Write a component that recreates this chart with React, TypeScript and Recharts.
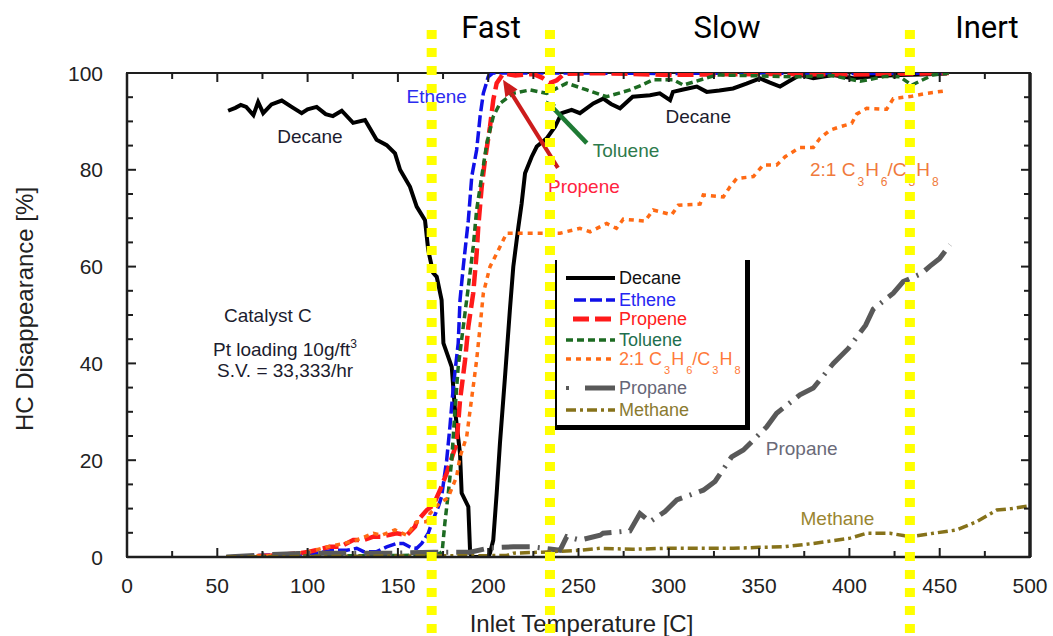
import React from 'react';
import { LineChart, Line, XAxis, YAxis, ReferenceLine, ReferenceDot, ReferenceArea, Legend } from 'recharts';

type Pair = [number, number];

// ---------- data ----------
const decane: Pair[] = [
  [56, 92.2], [60, 92.8], [63, 93.4], [66, 93], [70, 91.3], [72.6, 94], [75.4, 91.7], [80, 93.5], [85.7, 94.3],
  [92, 92.8], [96.7, 91.7], [100, 92.5], [105, 93], [110, 91.5], [114, 91.1], [118.9, 92.2], [125.2, 89.7],
  [131.8, 90.3], [138.2, 86.2], [143.8, 85.1], [148.4, 83.4], [151.2, 80], [156.7, 76.5], [160.4, 72.4],
  [165, 69.6], [166.8, 63.4], [169.5, 58.7], [171.5, 57.9], [174.2, 53.1], [175.2, 44.2], [179.8, 39.3],
  [181.6, 30.4], [184.4, 21.4], [185.3, 13.2], [189, 10.4], [190, 0.8], [191, 0], [200, 0], [201, 0.8],
  [202.8, 3.5], [204.7, 13.2], [206.5, 23.5], [209.3, 37.2], [212, 51], [213.9, 60], [216.7, 68.2],
  [218.5, 73], [220.4, 79.3], [224.1, 82.7], [226.9, 84.8], [232.4, 86.5], [237, 88.9], [240.7, 91.7],
  [246.2, 92.4], [250.8, 91.7], [258.2, 93.7], [263.7, 94.7], [268, 93.6], [273, 92.7], [280, 95.1],
  [289.6, 95.4], [295, 95.8], [300.7, 94.4], [302.3, 96.1], [308, 96.6], [315.5, 97.2], [321, 96.1],
  [328, 96.4], [335.6, 96.8], [343, 97.8], [350.5, 98.9], [356, 98], [361.6, 97.2], [367, 98.4],
  [372.6, 99.6], [380, 98.9], [391, 99.6], [402, 98.9], [415, 99.4], [428, 99.6], [440, 99.7], [454, 99.9],
];

const ethene: Pair[] = [
  [55, 0], [70, 0.3], [90, 0.5], [105, 0.8], [114.2, 1.4], [121.7, 1.4], [127.2, 1.8], [131, 1.1],
  [138.3, 1.1], [143.8, 2.1], [149.3, 2.8], [153, 2.8], [157, 2], [160.4, 1.8], [163.2, 2.8], [166.8, 4.9],
  [168.7, 7], [172.4, 10.4], [174.2, 12.5], [177, 20], [178.8, 26.9], [180.7, 35.2], [183.4, 44.2],
  [184.4, 53.1], [186.2, 60], [189, 69.6], [190.9, 78.6], [193.6, 84.1], [195.5, 91], [197.3, 95.8],
  [200, 99.2], [202.7, 100], [250, 100], [300, 99.9], [350, 100], [400, 99.9], [455, 100],
];

const propene: Pair[] = [
  [60, 0], [80, 0.3], [96, 0.8], [101, 1.1], [112.4, 2.1], [118, 2.1], [125.3, 3.5], [131, 3.5],
  [136.4, 4.2], [141, 4.2], [149.3, 4.9], [154.9, 4.5], [159.5, 6.3], [160.4, 7.3], [166, 9.7],
  [169.6, 10.7], [173.3, 13.8], [177, 17.3], [182.5, 23.5], [184.4, 32.4], [187.2, 40.7], [189, 47.6],
  [191.7, 54.5], [193.6, 62.7], [194.5, 68.2], [196.4, 76.5], [198.2, 82], [201, 88.9], [202.8, 94.4],
  [204.7, 97.9], [208.4, 99.9], [215, 99.5], [225, 99.8], [230, 99], [234, 97.9], [238, 98.5],
  [242, 99.8], [260, 100], [300, 99.6], [350, 99.8], [400, 99.7], [455, 100],
];

const toluene: Pair[] = [
  [55, 0], [100, 0.2], [150, 0.3], [170, 0.5], [173.3, 0.8], [174.5, 1.1], [176, 7], [177.9, 13.2],
  [179.8, 20], [181.6, 30.4], [183.4, 39.3], [186.2, 47.6], [189, 55.8], [191.7, 64.1], [193.6, 71.7],
  [196.4, 78.6], [199.2, 85.4], [202.8, 91], [206.5, 93.7], [213.9, 95.8], [223.1, 96.5], [232.4, 95.8],
  [243.5, 97.9], [254.6, 96.5], [265.6, 95.1], [278.5, 96.5], [285, 97.5], [291.4, 98.6], [302.5, 98.6],
  [308, 97.5], [326.5, 99.6], [350, 99.4], [372.6, 99.2], [390, 99.5], [405.9, 98.3], [420, 99.3],
  [428, 99.2], [434.5, 97.5], [446.3, 99.6], [455, 100],
];

const mix: Pair[] = [
  [55, 0], [80, 0.3], [100, 1], [112, 2.2], [120, 2.8], [127.2, 3.5], [136.4, 4.9], [141, 4.5],
  [148.4, 5.6], [154.9, 4.5], [160.4, 7.3], [166, 7.3], [167.8, 9], [173.3, 11.2], [177.7, 12.2],
  [182.5, 16.6], [184.4, 20.7], [188.1, 24.9], [190, 30.4], [191.7, 35.2], [193.6, 40.7], [195.5, 47.6],
  [197.3, 54.5], [201, 60], [204.7, 62.7], [210.2, 66.9], [223.1, 66.9], [239.8, 66.9], [250.8, 67.9],
  [256.4, 67.2], [265.6, 68.9], [271, 67.9], [274.8, 69.8], [286.8, 69.4], [291.4, 71.7], [301.6, 70.7],
  [305.3, 72.7], [317.3, 72.9], [319.1, 74.8], [330.2, 74.4], [333.9, 76.5], [337.6, 78.2], [346.8, 78.6],
  [352.3, 81], [359.7, 81], [364.4, 82.7], [372.6, 84.6], [380, 84.6], [383.7, 86.5], [389.3, 88.2],
  [394.8, 88.9], [401.3, 89.6], [404, 91.5], [409.6, 92.7], [420.6, 92.5], [424.3, 94.7], [434.5, 95.2],
  [442.8, 95.8], [452.9, 96.3],
];

const propane: Pair[] = [
  [55, 0], [80, 0.5], [100, 0.8], [130, 0.8], [150, 0.8], [170, 1], [190, 1], [201, 1.9], [214, 2.1],
  [224.8, 2.1], [239.8, 1.4], [243.5, 4.2], [250.8, 3.5], [262, 4.5], [263.6, 4.9], [278.5, 5.4],
  [284, 9], [289.6, 7.3], [297.9, 9.4], [304.4, 11.8], [319.1, 13.8], [325.6, 15.6], [334.8, 20.7],
  [341.3, 22.1], [354.2, 26.9], [359.7, 29.7], [372.6, 33.5], [380, 34.9], [391.1, 40], [399.4, 43.1],
  [409, 47.9], [413.2, 51.2], [424.3, 54.5], [429.8, 56.9], [440, 58.6], [444.6, 60.1], [450, 61.7],
  [455.7, 64.5],
];

const methane: Pair[] = [
  [55, 0], [150, 0.2], [210, 0.3], [214, 0.8], [230, 1], [251, 1.4], [262, 1.8], [280, 1.6], [298.8, 1.8],
  [320, 1.8], [335.7, 1.8], [350, 2], [363.4, 2.1], [380, 2.8], [400.4, 3.9], [409.6, 4.9], [422.5, 4.9],
  [433.6, 4.2], [446.5, 4.9], [459.4, 5.6], [470.5, 7.3], [481.6, 9.7], [490, 10], [496.3, 10.4], [500, 10.6],
];

const xTicks = [0, 25, 50, 75, 100, 125, 150, 175, 200, 225, 250, 275, 300, 325, 350, 375, 400, 425, 450, 475, 500];
const yTicks = [0, 5, 10, 15, 20, 25, 30, 35, 40, 45, 50, 55, 60, 65, 70, 75, 80, 85, 90, 95, 100];
const regionBounds = [168.7, 234.2, 433.5];
const regionLabels = ['Fast', 'Slow', 'Inert'];

// ---------- layout & styles ----------
const W = 1053;
const H = 636;
const M = { top: 73, right: 23, bottom: 0, left: 0 };
const Y_AXIS_W = 127;
const X_AXIS_H = 79;
const PLOT_W = W - M.right - Y_AXIS_W; // 903
const PLOT_H = H - M.top - X_AXIS_H; // 484

const FONT = '"Liberation Sans", Arial, Helvetica, sans-serif';
const AXIS = '#1e1e1e';

const STY: Record<string, { stroke: string; w: number; dash?: string }> = {
  decane: { stroke: '#000000', w: 4 },
  ethene: { stroke: '#1010e8', w: 3.5, dash: '12 4' },
  propene: { stroke: '#ff1a1a', w: 4.5, dash: '16 6' },
  toluene: { stroke: '#1d6b22', w: 3.5, dash: '7 4' },
  mix: { stroke: '#ff6a14', w: 3.5, dash: '5 5' },
  propane: { stroke: '#595959', w: 5, dash: '28 8 2 8' },
  methane: { stroke: '#86721a', w: 3.5, dash: '10 4 3 4' },
};

const toPts = (a: Pair[]) => a.map(([x, y]) => ({ x, y }));

// ---------- ticks (inward, mirrored on top / right) ----------
const BottomTick = (props: any) => {
  const { x, y, payload } = props;
  const v = payload.value;
  const major = v % 50 === 0;
  const len = major ? 9 : 6;
  const top = y - PLOT_H;
  return (
    <g>
      <line x1={x} x2={x} y1={y} y2={y - len} stroke={AXIS} strokeWidth={2} />
      <line x1={x} x2={x} y1={top} y2={top + len} stroke={AXIS} strokeWidth={2} />
      {major && (
        <text x={x} y={y + 36} textAnchor="middle" fontSize={21} fill="#222" fontFamily={FONT}>
          {v}
        </text>
      )}
    </g>
  );
};
const LeftTick = (props: any) => {
  const { x, y, payload } = props;
  const v = payload.value;
  const major = v % 20 === 0;
  const len = major ? 9 : 6;
  const right = x + PLOT_W;
  return (
    <g>
      <line x1={x} x2={x + len} y1={y} y2={y} stroke={AXIS} strokeWidth={2} />
      <line x1={right} x2={right - len} y1={y} y2={y} stroke={AXIS} strokeWidth={2} />
      {major && (
        <text x={x - 24} y={y + 7.5} textAnchor="end" fontSize={21} fill="#222" fontFamily={FONT}>
          {v}
        </text>
      )}
    </g>
  );
};

const XTitle = (props: any) => {
  const vb = props.viewBox || { x: 127, y: 557, width: 903 };
  return (
    <text x={vb.x + vb.width / 2 + 3} y={vb.y + 75} textAnchor="middle" fontSize={24} fill="#222" fontFamily={FONT}>
      Inlet Temperature [C]
    </text>
  );
};
const YTitle = (props: any) => {
  const vb = props.viewBox || { x: 0, y: 73, width: 127, height: 484 };
  const cx = vb.x + 33;
  const cy = vb.y + vb.height / 2 - 6;
  return (
    <text x={cx} y={cy} textAnchor="middle" fontSize={24} fill="#222" fontFamily={FONT} transform={`rotate(-90 ${cx} ${cy})`}>
      HC Disappearance [%]
    </text>
  );
};

// ---------- shapes ----------
const YellowShape = (p: any) => (
  <line x1={p.x1} x2={p.x2} y1={30} y2={H} stroke="#ffff00" strokeWidth={10} strokeDasharray="9 9" />
);

const makeArrow = (color: string, w: number, head: number) => (p: any) => {
  const { x1, y1, x2, y2 } = p;
  const dx = x2 - x1;
  const dy = y2 - y1;
  const L = Math.hypot(dx, dy) || 1;
  const ux = dx / L;
  const uy = dy / L;
  const bx = x2 - ux * head;
  const by = y2 - uy * head;
  const nx = -uy;
  const ny = ux;
  const hw = head * 0.45;
  return (
    <g>
      <line x1={x1} y1={y1} x2={bx} y2={by} stroke={color} strokeWidth={w} />
      <polygon points={`${x2},${y2} ${bx + nx * hw},${by + ny * hw} ${bx - nx * hw},${by - ny * hw}`} fill={color} />
    </g>
  );
};

const textShape = (text: string, color: string, anchor: string = 'middle', size = 19) => (p: any) => (
  <text x={p.cx} y={p.cy} textAnchor={anchor} fontSize={size} fill={color} fontFamily={FONT}>
    {text}
  </text>
);

const MixText = ({ x, y, size, color }: { x: number; y: number; size: number; color: string }) => {
  const sub = Math.round(size * 0.62);
  const d = Math.round(size * 0.5);
  return (
    <text x={x} y={y} fontSize={size} fill={color} fontFamily={FONT}>
      <tspan>2:1 C</tspan>
      <tspan dx={2} dy={d} fontSize={sub}>3</tspan>
      <tspan dx={1} dy={-d}>H</tspan>
      <tspan dx={2} dy={d} fontSize={sub}>6</tspan>
      <tspan dy={-d}>/C</tspan>
      <tspan dx={2} dy={d} fontSize={sub}>3</tspan>
      <tspan dx={1} dy={-d}>H</tspan>
      <tspan dx={2} dy={d} fontSize={sub}>8</tspan>
    </text>
  );
};

const notes = [
  { x: 101.3, y: 85.5, text: 'Decane', color: '#1c1c2e' },
  { x: 171.5, y: 93.8, text: 'Ethene', color: '#2b2bef' },
  { x: 316.3, y: 89.7, text: 'Decane', color: '#1c1c2e' },
  { x: 276.3, y: 82.7, text: 'Toluene', color: '#2e7a4c' },
  { x: 253, y: 75.2, text: 'Propene', color: '#ff2340' },
  { x: 373.6, y: 21.1, text: 'Propane', color: '#6a6a78' },
  { x: 393.4, y: 6.6, text: 'Methane', color: '#9a8530' },
  { x: 78, y: 48.6, text: 'Catalyst C', color: '#1c1c2e' },
  { x: 87.5, y: 37.2, text: 'S.V. = 33,333/hr', color: '#1c1c2e' },
];

const PtShape = (p: any) => (
  <text x={p.cx} y={p.cy} textAnchor="middle" fontSize={19} fill="#1c1c2e" fontFamily={FONT}>
    Pt loading 10g/ft
    <tspan dy={-8} fontSize={12}>3</tspan>
  </text>
);
const MixShape = (p: any) => <MixText x={p.cx} y={p.cy} size={19} color="#f07a3c" />;

// ---------- legend ----------
const legendRows = [
  { key: 'decane', label: 'Decane', color: '#111' },
  { key: 'ethene', label: 'Ethene', color: '#2626f2' },
  { key: 'propene', label: 'Propene', color: '#ff2020' },
  { key: 'toluene', label: 'Toluene', color: '#1f6f4f' },
  { key: 'mix', label: '2:1 C3H6/C3H8', color: '#ff7a3a' },
  { key: 'propane', label: 'Propane', color: '#666677' },
  { key: 'methane', label: 'Methane', color: '#8a7a30' },
];
const legendRowY = [18, 40, 59, 80, 99, 128, 150];

const renderLegend = () => (
  <svg width={188} height={165} style={{ display: 'block' }}>
    {legendRows.map((r, i) => {
      const s = STY[r.key];
      const y = legendRowY[i];
      let sample: React.ReactNode;
      if (r.key === 'propane') {
        sample = (
          <g>
            <line x1={9} x2={12} y1={y} y2={y} stroke={s.stroke} strokeWidth={4} />
            <line x1={28} x2={58} y1={y} y2={y} stroke={s.stroke} strokeWidth={5} />
          </g>
        );
      } else {
        const x1 = r.key === 'ethene' ? 17 : r.key === 'propene' ? 16 : 9;
        sample = <line x1={x1} x2={58} y1={y} y2={y} stroke={s.stroke} strokeWidth={r.key === 'propene' ? 5 : s.w} strokeDasharray={s.dash} />;
      }
      return (
        <g key={r.key}>
          {sample}
          {r.key === 'mix' ? (
            <MixText x={62} y={y + 6} size={18} color={r.color} />
          ) : (
            <text x={62} y={y + 6} fontSize={18} fill={r.color} fontFamily={FONT}>
              {r.label}
            </text>
          )}
        </g>
      );
    })}
  </svg>
);

const series: { key: string; data: Pair[] }[] = [
  { key: 'decane', data: decane },
  { key: 'ethene', data: ethene },
  { key: 'propene', data: propene },
  { key: 'toluene', data: toluene },
  { key: 'mix', data: mix },
  { key: 'propane', data: propane },
  { key: 'methane', data: methane },
];

export default function App() {
  return (
    <div style={{ position: 'absolute', left: 0, top: 0, width: W, height: H, background: '#fff', overflow: 'hidden' }}>
      <LineChart width={W} height={H} margin={M}>
        <XAxis
          dataKey="x" type="number" domain={[0, 500]} ticks={xTicks} interval={0} allowDataOverflow height={X_AXIS_H}
          axisLine={{ stroke: AXIS, strokeWidth: 2.5 }} tickLine={false} tickSize={0} tickMargin={0}
          tick={<BottomTick />} label={{ content: XTitle }}
        />
        <YAxis
          type="number" domain={[0, 100]} ticks={yTicks} interval={0} allowDataOverflow width={Y_AXIS_W}
          axisLine={{ stroke: AXIS, strokeWidth: 2.5 }} tickLine={false} tickSize={0} tickMargin={0}
          tick={<LeftTick />} label={{ content: YTitle }}
        />
        {/* plot frame (top and right edges) */}
        <ReferenceArea x1={0} x2={500} y1={0} y2={100} fill="none" fillOpacity={0} stroke={AXIS} strokeWidth={2} ifOverflow="visible" />
        <ReferenceLine x={500} stroke={AXIS} strokeWidth={3.5} ifOverflow="visible" />
        {series.map((s) => (
          <Line
            key={s.key}
            data={toPts(s.data)}
            dataKey="y"
            type="linear"
            stroke={STY[s.key].stroke}
            strokeWidth={STY[s.key].w}
            strokeDasharray={STY[s.key].dash}
            dot={false}
            activeDot={false}
            isAnimationActive={false}
            legendType="none"
          />
        ))}
        {notes.map((n, i) => (
          <ReferenceDot key={'n' + i} x={n.x} y={n.y} r={0} ifOverflow="visible" shape={textShape(n.text, n.color)} />
        ))}
        <ReferenceDot x={87.5} y={41.5} r={0} ifOverflow="visible" shape={PtShape} />
        <ReferenceDot x={378.2} y={78.7} r={0} ifOverflow="visible" shape={MixShape} />
        <ReferenceLine
          segment={[{ x: 238.6, y: 80.4 }, { x: 208.2, y: 98.6 }]}
          ifOverflow="visible"
          shape={makeArrow('#cc1c1c', 4, 16)}
          zIndex={1400}
        />
        <ReferenceLine
          segment={[{ x: 254.6, y: 85.5 }, { x: 232, y: 94.3 }]}
          ifOverflow="visible"
          shape={makeArrow('#1e7a34', 4.5, 10)}
          zIndex={1400}
        />
        {regionBounds.map((b) => (
          <ReferenceLine key={'r' + b} x={b} ifOverflow="visible" shape={YellowShape} zIndex={1500} />
        ))}
        <Legend
          layout="horizontal"
          verticalAlign="middle"
          align="center"
          content={renderLegend}
          wrapperStyle={{
            left: 555, top: 260, width: 188, height: 165, background: '#fff',
            borderLeft: '2px solid #000', borderRight: '5px solid #000', borderBottom: '5px solid #000',
            boxSizing: 'content-box',
          }}
        />
      </LineChart>
      <svg width={W} height={60} style={{ position: 'absolute', left: 0, top: 0, pointerEvents: 'none' }}>
        {regionLabels.map((t, i) => (
          <text key={t} x={[491, 727, 987][i]} y={38} textAnchor="middle" fontSize={31} fill="#000" fontFamily="Roboto, 'Open Sans', sans-serif">
            {t}
          </text>
        ))}
      </svg>
    </div>
  );
}
